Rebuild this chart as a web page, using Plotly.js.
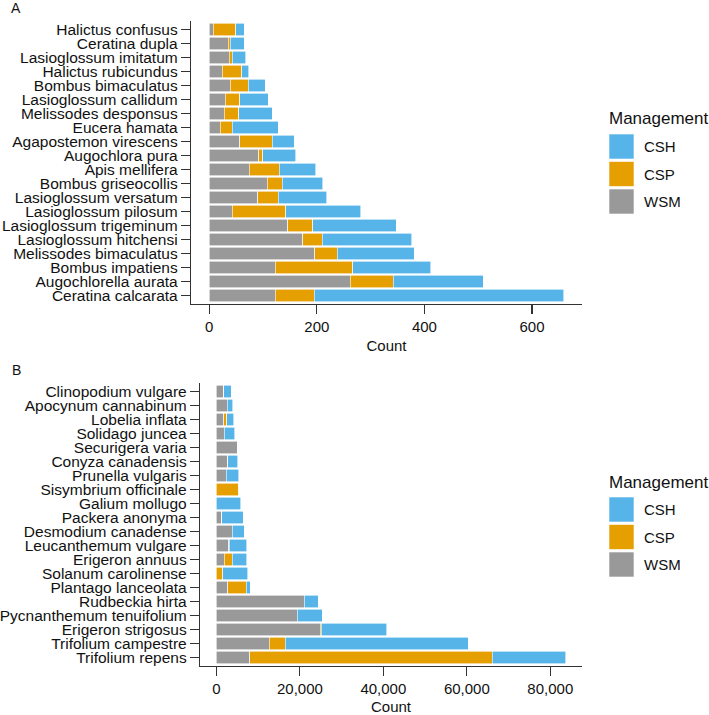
<!DOCTYPE html>
<html>
<head>
<meta charset="utf-8">
<script src="https://cdn.plot.ly/plotly-3.0.1.min.js"></script>
<style>
  body { margin: 0; background: #fff; }
  #grafica { width: 709px; height: 715px; }
</style>
</head>
<body>
<div id="grafica"></div>
<script>
// Panel A: abejas (de arriba hacia abajo)
var beesA = ["Halictus confusus", "Ceratina dupla", "Lasioglossum imitatum", "Halictus rubicundus",
  "Bombus bimaculatus", "Lasioglossum callidum", "Melissodes desponsus", "Eucera hamata",
  "Agapostemon virescens", "Augochlora pura", "Apis mellifera", "Bombus griseocollis",
  "Lasioglossum versatum", "Lasioglossum pilosum", "Lasioglossum trigeminum", "Lasioglossum hitchensi",
  "Melissodes bimaculatus", "Bombus impatiens", "Augochlorella aurata", "Ceratina calcarata"];
var wsmA = [7, 35, 37, 24, 39, 30, 28, 20, 57, 92, 74, 108, 90, 43, 146, 174, 196, 123, 262, 123];
var cspA = [42, 4, 6, 36, 33, 27, 27, 23, 60, 7, 56, 28, 38, 99, 46, 36, 42, 144, 80, 72];
var cshA = [16, 26, 25, 13, 32, 53, 62, 85, 41, 62, 68, 75, 90, 140, 156, 166, 143, 145, 167, 464];

// Panel B: plantas (de arriba hacia abajo)
var plantsB = ["Clinopodium vulgare", "Apocynum cannabinum", "Lobelia inflata", "Solidago juncea",
  "Securigera varia", "Conyza canadensis", "Prunella vulgaris", "Sisymbrium officinale",
  "Galium mollugo", "Packera anonyma", "Desmodium canadense", "Leucanthemum vulgare",
  "Erigeron annuus", "Solanum carolinense", "Plantago lanceolata", "Rudbeckia hirta",
  "Pycnanthemum tenuifolium", "Erigeron strigosus", "Trifolium campestre", "Trifolium repens"];
var wsmB = [1700, 2550, 1750, 1850, 5000, 2650, 2300, 0, 0, 1250, 3750, 2900, 1850, 0, 2700, 21000, 19400, 24900, 12600, 8000];
var cspB = [0, 0, 700, 0, 0, 0, 0, 5300, 0, 0, 0, 200, 1900, 1550, 4500, 0, 0, 250, 3900, 58100];
var cshB = [1800, 1300, 1700, 2550, 0, 2400, 3000, 0, 5850, 5150, 2950, 4200, 3500, 6000, 900, 3400, 5900, 15700, 43800, 17600];

var groups = ["WSM", "CSP", "CSH"];
var colors = {WSM: "#999999", CSP: "#E69F00", CSH: "#56B4E9"};
var legendOrder = ["CSH", "CSP", "WSM"];

var fontName = "Liberation Sans, Arial, sans-serif";

function barTrace(name, cats, vals, xa, ya) {
  return {
    type: "bar",
    orientation: "h",
    name: name,
    y: cats,
    x: vals,
    xaxis: xa,
    yaxis: ya,
    width: 0.9,
    marker: {color: colors[name], line: {color: "#ffffff", width: 0.6}},
    showlegend: false,
    hoverinfo: "x+y+name"
  };
}

var data = [
  barTrace("WSM", beesA, wsmA, "x", "y"),
  barTrace("CSP", beesA, cspA, "x", "y"),
  barTrace("CSH", beesA, cshA, "x", "y"),
  barTrace("WSM", plantsB, wsmB, "x2", "y2"),
  barTrace("CSP", plantsB, cspB, "x2", "y2"),
  barTrace("CSH", plantsB, cshB, "x2", "y2")
];

function xAxis(domain, range, dtick, fmt, anchor) {
  return {
    domain: domain, range: range, anchor: anchor, dtick: dtick, tick0: 0, tickformat: fmt,
    showgrid: false, zeroline: false, showline: true, linecolor: "#333", linewidth: 1.2,
    ticks: "outside", ticklen: 9, tickcolor: "#333", tickwidth: 1.2,
    tickfont: {family: fontName, size: 15, color: "#111"},
    title: {text: "Count", font: {family: fontName, size: 15, color: "#111"}, standoff: 6},
    automargin: false, fixedrange: true
  };
}

function yAxis(domain, cats, anchor) {
  return {
    domain: domain, anchor: anchor, type: "category",
    categoryorder: "array", categoryarray: cats,
    tickmode: "array", tickvals: cats, ticktext: cats,
    range: [cats.length - 0.4, -0.6],
    showgrid: false, zeroline: false, showline: true, linecolor: "#333", linewidth: 1.2,
    ticks: "outside", ticklen: 9, tickcolor: "#333", tickwidth: 1.2,
    tickfont: {family: fontName, size: 15.5, color: "#111"},
    automargin: false, fixedrange: true
  };
}

// leyenda dibujada a mano (cuadros grandes como en ggplot)
var shapes = [];
var annotations = [];
function addLegend(titleY, firstBoxTop) {
  var W = 709, H = 715;
  annotations.push({
    xref: "paper", yref: "paper", x: 607 / W, y: 1 - titleY / H,
    xanchor: "left", yanchor: "middle", showarrow: false,
    text: "Management", font: {family: fontName, size: 17, color: "#111"}
  });
  for (var i = 0; i < legendOrder.length; i++) {
    var top = firstBoxTop + i * 27.5;
    shapes.push({
      type: "rect", xref: "paper", yref: "paper",
      x0: 609 / W, x1: 634 / W, y0: 1 - (top + 25) / H, y1: 1 - top / H,
      fillcolor: colors[legendOrder[i]], line: {color: "#ffffff", width: 0.6}
    });
    annotations.push({
      xref: "paper", yref: "paper", x: 642 / W, y: 1 - (top + 12.5) / H,
      xanchor: "left", yanchor: "middle", showarrow: false,
      text: legendOrder[i], font: {family: fontName, size: 15, color: "#111"}
    });
  }
}
addLegend(118, 134);
addLegend(482, 497);

annotations.push({xref: "paper", yref: "paper", x: 9 / 709, y: 1 - 8 / 715, xanchor: "left", yanchor: "middle",
  showarrow: false, text: "A", font: {family: fontName, size: 14, color: "#111"}});
annotations.push({xref: "paper", yref: "paper", x: 10 / 709, y: 1 - 370 / 715, xanchor: "left", yanchor: "middle",
  showarrow: false, text: "B", font: {family: fontName, size: 14, color: "#111"}});

var layout = {
  width: 709, height: 715,
  margin: {l: 0, r: 0, t: 0, b: 0},
  paper_bgcolor: "#ffffff", plot_bgcolor: "#ffffff",
  barmode: "stack", bargap: 0.1,
  showlegend: false,
  font: {family: fontName, color: "#111"},
  xaxis: xAxis([191 / 709, 582 / 709], [-34, 693], 200, "d", "y"),
  yaxis: yAxis([1 - 304 / 715, 1 - 21 / 715], beesA, "x"),
  xaxis2: xAxis([200 / 709, 582 / 709], [-3940, 87600], 20000, ",d", "y2"),
  yaxis2: yAxis([1 - 666 / 715, 1 - 383 / 715], plantsB, "x2"),
  shapes: shapes,
  annotations: annotations
};

Plotly.newPlot("grafica", data, layout, {displayModeBar: false, staticPlot: true});
</script>
</body>
</html>
